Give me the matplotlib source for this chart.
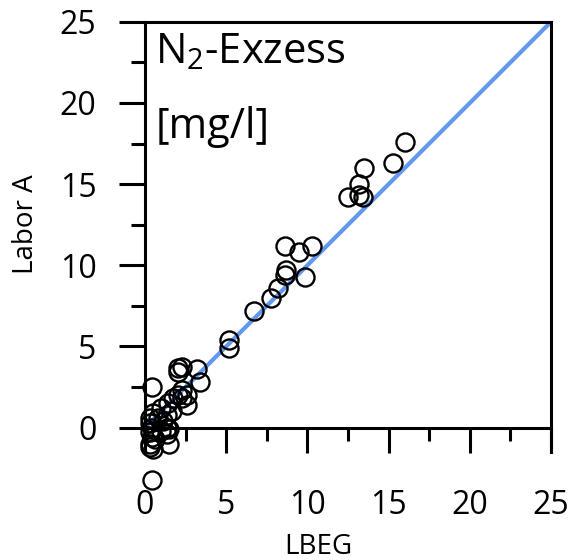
import matplotlib
matplotlib.use('Agg')
import matplotlib.pyplot as plt
from matplotlib.ticker import MultipleLocator

plt.rcParams['font.family'] = ['Open Sans', 'DejaVu Sans']
plt.rcParams['mathtext.fontset'] = 'custom'
plt.rcParams['mathtext.rm'] = 'Open Sans'
plt.rcParams['mathtext.it'] = 'Open Sans'

# LBEG vs Labor A values (mg/l)
lbeg = [16.0, 15.3, 13.5, 13.2, 13.2, 12.5, 13.4,
        8.6, 10.3, 9.5, 8.7, 8.6, 9.85, 8.2, 7.75, 6.7, 5.2, 5.2,
        2.0, 2.3, 3.2, 2.0, 3.4, 0.4, 2.3, 2.0, 2.6, 1.7, 2.3, 2.6,
        1.4, 1.0, 1.65, 1.35, 0.5, 0.3, 0.8, 0.3, 1.1, 0.4, 1.35,
        0.3, 1.35, 0.4, 1.5, 0.3, 0.5, 0.3, 0.4, 1.0, 0.6, 1.5]
labor_a = [17.6, 16.3, 16.0, 15.0, 14.3, 14.2, 14.2,
           11.2, 11.2, 10.8, 9.7, 9.4, 9.3, 8.6, 8.0, 7.2, 5.4, 4.9,
           3.7, 3.75, 3.6, 3.4, 2.8, 2.5, 2.3, 2.0, 2.0, 1.8, 1.8, 1.4,
           1.5, 1.2, 1.0, 0.8, 0.9, 0.6, 0.6, 0.3, 0.4, 0.0, 0.0,
           -0.3, -0.4, -0.6, -1.0, -1.0, -1.35, -1.2, -3.2, -0.2, -0.7, -0.1]

x_ticks = [0, 5, 10, 15, 20, 25]
y_ticks = [0, 5, 10, 15, 20, 25]

fig = plt.figure(figsize=(5.71, 5.6), dpi=100)
ax = fig.add_axes([0.254, 0.193, 0.711, 0.768])

# 1:1 line
ax.axline((0, 0), slope=1, color='#6398f2', lw=3, zorder=2)

ax.plot(lbeg, labor_a, 'o', mfc='none', mec='black', ms=13, mew=1.7,
        clip_on=False, zorder=3)

ax.set_xlim(0, 25)
ax.set_ylim(-1.5, 25)

# x axis crosses at y = 0, no bottom frame line
ax.spines['bottom'].set_position(('data', 0))
for s in ax.spines.values():
    s.set_linewidth(2.2)

ax.set_xticks(x_ticks)
ax.set_yticks(y_ticks)
ax.xaxis.set_minor_locator(MultipleLocator(2.5))
ax.yaxis.set_minor_locator(MultipleLocator(2.5))
ax.tick_params(axis='x', which='major', direction='out', length=18, width=2.2,
               pad=26, labelsize=23)
ax.tick_params(axis='x', which='minor', direction='out', length=9.5, width=2.2)
ax.tick_params(axis='y', which='major', direction='out', length=19, width=2.2,
               pad=16, labelsize=23)
ax.tick_params(axis='y', which='minor', direction='out', length=10, width=2.2)

ax.set_xlabel('LBEG', fontsize=20, va='center')
ax.set_ylabel('Labor A', fontsize=20, va='center')
ax.xaxis.set_label_coords(0.426, -0.221)
ax.yaxis.set_label_coords(-0.293, 0.53)

ax.text(0.025, 0.905, r'N$_\mathrm{2}$-Exzess', transform=ax.transAxes,
        fontsize=30, va='baseline', ha='left')
ax.text(0.025, 0.730, '[mg/l]', transform=ax.transAxes,
        fontsize=30, va='baseline', ha='left')

fig.savefig('out.png', dpi=100)
